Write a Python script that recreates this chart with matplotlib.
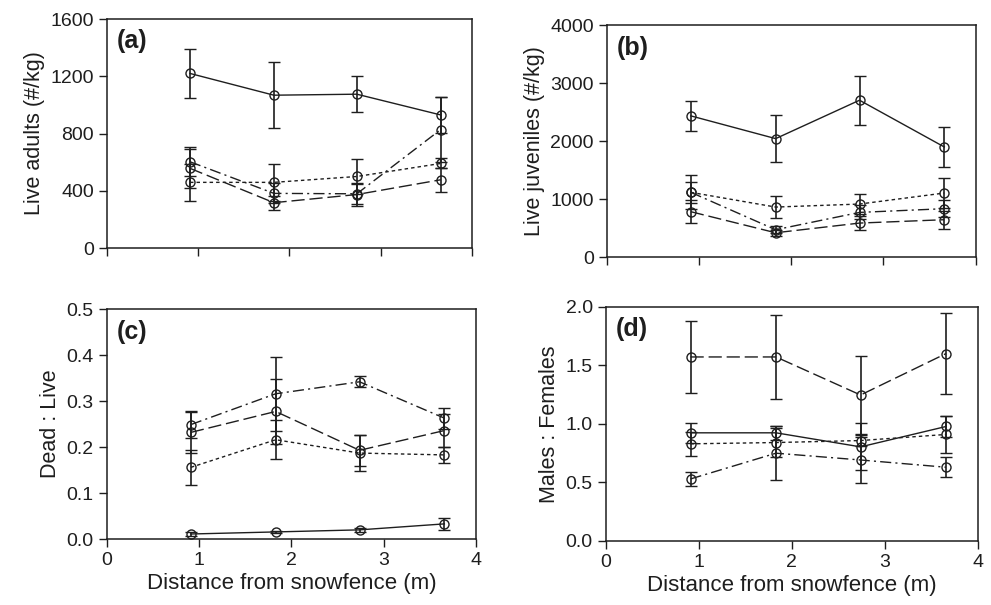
import matplotlib
matplotlib.use('Agg')
import matplotlib.pyplot as plt

# distance of the sampling points from the snowfence (m)
distance = [0.91, 1.83, 2.74, 3.66]

# (a) live adults (#/kg)
adults_solid = [1220, 1068, 1075, 930]
adults_solid_err = [170, 230, 125, 128]
adults_short = [459, 459, 500, 591]
adults_short_err = [130, 130, 121, 35]
adults_long = [557, 317, 374, 477]
adults_long_err = [135, 50, 80, 82]
adults_dashdot = [603, 382, 379, 828]
adults_dashdot_err = [100, 70, 70, 230]

# (b) live juveniles (#/kg)
juv_solid = [2435, 2043, 2705, 1899]
juv_solid_err = [253, 405, 423, 345]
juv_short = [1117, 863, 915, 1105]
juv_short_err = [178, 190, 180, 265]
juv_long = [783, 420, 587, 645]
juv_long_err = [196, 50, 127, 156]
juv_dashdot = [1117, 472, 771, 835]
juv_dashdot_err = [293, 60, 120, 150]

# (c) dead : live
dead_solid = [0.011, 0.0155, 0.020, 0.033]
dead_solid_err = [0.004, 0.003, 0.004, 0.013]
dead_short = [0.156, 0.216, 0.187, 0.183]
dead_short_err = [0.038, 0.042, 0.040, 0.018]
dead_long = [0.232, 0.2775, 0.193, 0.236]
dead_long_err = [0.045, 0.070, 0.034, 0.035]
dead_dashdot = [0.249, 0.316, 0.342, 0.263]
dead_dashdot_err = [0.030, 0.081, 0.012, 0.023]

# (d) males : females
sex_solid = [0.923, 0.923, 0.803, 0.977]
sex_solid_err = [0.086, 0.060, 0.200, 0.086]
sex_short = [0.829, 0.840, 0.857, 0.909]
sex_short_err = [0.100, 0.120, 0.050, 0.160]
sex_long = [1.571, 1.571, 1.246, 1.600]
sex_long_err = [0.310, 0.360, 0.330, 0.345]
sex_dashdot = [0.529, 0.749, 0.691, 0.629]
sex_dashdot_err = [0.062, 0.230, 0.200, 0.086]

INK = '#1e1e1e'
STYLES = {
    'solid': '-',
    'short': (0, (2.5, 2.2)),
    'long': (0, (9.5, 3.5)),
    'dashdot': (0, (8, 3, 1.5, 3)),
}

plt.rcParams['font.family'] = ['Liberation Sans', 'DejaVu Sans']


def draw_panel(ax, series, ylim, yticks, ylabel, tag, show_x):

    """
    Draws one panel: four series with error bars, open circle markers.
    """

    for key, values, errors in series:
        ax.errorbar(distance, values, yerr=errors, color=INK, lw=1.0,
                    ls=STYLES[key], elinewidth=1.2, capsize=4.5, capthick=1.2,
                    marker='o', ms=6.5, mfc='none', mec=INK, mew=1.0)

    ax.set_xlim(0, 4)
    ax.set_ylim(*ylim)
    ax.set_xticks([0, 1, 2, 3, 4])
    ax.set_yticks(yticks)
    ax.tick_params(direction='out', length=6, width=1, labelsize=14, colors=INK)
    ax.tick_params(top=False, right=False)
    for spine in ax.spines.values():
        spine.set_linewidth(1.1)
        spine.set_color(INK)
    ax.set_ylabel(ylabel, fontsize=15.5, color=INK)
    if show_x:
        ax.set_xlabel('Distance from snowfence (m)', fontsize=16, color=INK, labelpad=3)
    else:
        ax.set_xticklabels([])
    ax.text(0.027, 0.955, tag, transform=ax.transAxes, ha='left', va='top',
            fontsize=18, fontweight='bold', color=INK)


if __name__ == "__main__":

    fig = plt.figure(figsize=(9.91, 6.05), dpi=100)

    ax_a = fig.add_axes([0.108, 0.590, 0.368, 0.3785])
    ax_b = fig.add_axes([0.6125, 0.575, 0.372, 0.3835])
    ax_c = fig.add_axes([0.108, 0.109, 0.372, 0.380])
    ax_d = fig.add_axes([0.6115, 0.106, 0.375, 0.387])

    draw_panel(ax_a, [('solid', adults_solid, adults_solid_err),
                      ('short', adults_short, adults_short_err),
                      ('long', adults_long, adults_long_err),
                      ('dashdot', adults_dashdot, adults_dashdot_err)],
               (0, 1600), [0, 400, 800, 1200, 1600], 'Live adults (#/kg)', '(a)', False)

    draw_panel(ax_b, [('solid', juv_solid, juv_solid_err),
                      ('short', juv_short, juv_short_err),
                      ('long', juv_long, juv_long_err),
                      ('dashdot', juv_dashdot, juv_dashdot_err)],
               (0, 4000), [0, 1000, 2000, 3000, 4000], 'Live juveniles (#/kg)', '(b)', False)

    draw_panel(ax_c, [('solid', dead_solid, dead_solid_err),
                      ('short', dead_short, dead_short_err),
                      ('long', dead_long, dead_long_err),
                      ('dashdot', dead_dashdot, dead_dashdot_err)],
               (0, 0.5), [0.0, 0.1, 0.2, 0.3, 0.4, 0.5], 'Dead : Live', '(c)', True)
    ax_c.set_yticklabels(['0.0', '0.1', '0.2', '0.3', '0.4', '0.5'])

    draw_panel(ax_d, [('solid', sex_solid, sex_solid_err),
                      ('short', sex_short, sex_short_err),
                      ('long', sex_long, sex_long_err),
                      ('dashdot', sex_dashdot, sex_dashdot_err)],
               (0, 2.0), [0.0, 0.5, 1.0, 1.5, 2.0], 'Males : Females', '(d)', True)
    ax_d.set_yticklabels(['0.0', '0.5', '1.0', '1.5', '2.0'])

    fig.savefig('out.png', dpi=100)
    plt.close()
